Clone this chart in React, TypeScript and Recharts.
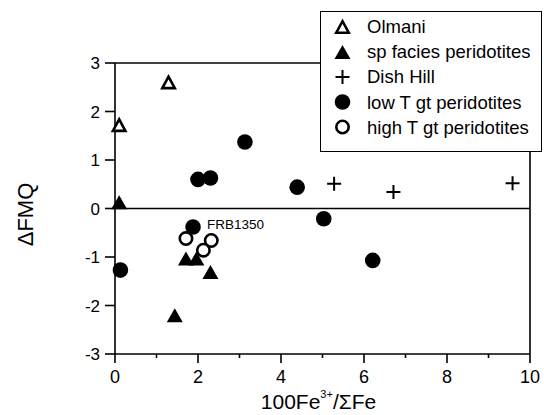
import React from "react";
import {
  ScatterChart,
  Scatter,
  XAxis,
  YAxis,
  ReferenceLine,
  Legend,
  Label,
} from "recharts";

const FONT = '"Liberation Sans", Arial, Helvetica, sans-serif';

const xTicks = [0, 1, 2, 3, 4, 5, 6, 7, 8, 9, 10];
const yTicks = [-3, -2, -1, 0, 1, 2, 3];

// values
const olmani = [
  { x: 1.29, y: 2.6 },
  { x: 0.1, y: 1.72 },
];
const spFacies = [
  { x: 0.1, y: 0.13 },
  { x: 1.71, y: -1.03 },
  { x: 1.96, y: -1.03 },
  { x: 2.3, y: -1.31 },
  { x: 1.44, y: -2.2 },
];
const dishHill = [
  { x: 5.28, y: 0.51 },
  { x: 6.71, y: 0.34 },
  { x: 9.58, y: 0.52 },
];
const lowT = [
  { x: 3.13, y: 1.37 },
  { x: 2.0, y: 0.6 },
  { x: 2.3, y: 0.63 },
  { x: 4.39, y: 0.44 },
  { x: 5.03, y: -0.21 },
  { x: 6.21, y: -1.07 },
  { x: 0.13, y: -1.27 },
  { x: 1.88, y: -0.38, name: "FRB1350" },
];
const highT = [
  { x: 1.71, y: -0.62 },
  { x: 2.32, y: -0.66 },
  { x: 2.13, y: -0.86 },
];

const legendItems = [
  { name: "Olmani", kind: "openTri" },
  { name: "sp facies peridotites", kind: "tri" },
  { name: "Dish Hill", kind: "plus" },
  { name: "low T gt peridotites", kind: "dot" },
  { name: "high T gt peridotites", kind: "ring" },
];

const triPoints = (cx: number, cy: number, w: number, h: number) =>
  `${cx},${cy - h / 2} ${cx - w / 2},${cy + h / 2} ${cx + w / 2},${cy + h / 2}`;

const Marker = ({ kind, cx, cy }: { kind: string; cx: number; cy: number }) => {
  switch (kind) {
    case "openTri":
      return (
        <polygon
          points={triPoints(cx, cy, 12.5, 11.5)}
          fill="#fff"
          stroke="#000"
          strokeWidth={2.6}
        />
      );
    case "tri":
      return <polygon points={triPoints(cx, cy, 16, 14)} fill="#000" />;
    case "plus":
      return (
        <path
          d={`M${cx - 7},${cy}H${cx + 7}M${cx},${cy - 7}V${cy + 7}`}
          stroke="#000"
          strokeWidth={2}
        />
      );
    case "dot":
      return <circle cx={cx} cy={cy} r={7.8} fill="#000" />;
    default:
      return (
        <circle cx={cx} cy={cy} r={6.2} fill="#fff" stroke="#000" strokeWidth={2.6} />
      );
  }
};

const shapeOf = (kind: string) => (props: any) => {
  const { cx, cy, payload } = props;
  return (
    <g>
      <Marker kind={kind} cx={cx} cy={cy} />
      {payload && payload.name && (
        <text x={cx + 14} y={cy + 2} fontSize={13.5} fontFamily={FONT} fill="#000">
          {payload.name}
        </text>
      )}
    </g>
  );
};

const XTick = (props: any) => {
  const { x, y, payload } = props;
  const major = payload.value % 2 === 0;
  return (
    <g>
      <line x1={x} x2={x} y1={y} y2={y + (major ? 9 : 4)} stroke="#000" strokeWidth={1.6} />
      {major && (
        <text x={x} y={y + 29} textAnchor="middle" fontSize={18} fontFamily={FONT} fill="#000">
          {payload.value}
        </text>
      )}
    </g>
  );
};

const LegendBox = () => (
  <div
    style={{
      boxSizing: "border-box",
      width: 222,
      height: 141,
      border: "1.5px solid #000",
      background: "#fff",
      paddingTop: 2,
      fontFamily: FONT,
      fontSize: 18.5,
      color: "#000",
    }}
  >
    {legendItems.map((item) => (
      <div key={item.name} style={{ display: "flex", alignItems: "center", height: 25.2 }}>
        <svg width={46} height={22} style={{ flex: "none" }}>
          <Marker kind={item.kind} cx={21.5} cy={11} />
        </svg>
        <span style={{ whiteSpace: "nowrap", lineHeight: "25px" }}>{item.name}</span>
      </div>
    ))}
  </div>
);

export default function App() {
  return (
    <div
      style={{
        position: "absolute",
        left: 0,
        top: 0,
        width: 544,
        height: 415,
        overflow: "hidden",
        background: "#fff",
      }}
    >
      <ScatterChart
        width={544}
        height={415}
        margin={{ top: 62, right: 13, bottom: 21, left: 0 }}
      >
        <XAxis
          type="number"
          dataKey="x"
          domain={[0, 10]}
          ticks={xTicks}
          interval={0}
          height={40}
          tickSize={0}
          tickMargin={0}
          tick={<XTick />}
          axisLine={{ stroke: "#000", strokeWidth: 1.6 }}
        >
          <Label
            content={(p: any) => {
              const { x, y, width } = p.viewBox;
              return (
                <text
                  x={x + width / 2 - 4}
                  y={y + 55}
                  textAnchor="middle"
                  fontSize={21}
                  fontFamily={FONT}
                  fill="#000"
                >
                  100Fe
                  <tspan dy={-11} fontSize={11}>
                    3+
                  </tspan>
                  <tspan dy={11}>/ΣFe</tspan>
                </text>
              );
            }}
          />
        </XAxis>
        <XAxis
          xAxisId="top"
          orientation="top"
          type="number"
          domain={[0, 10]}
          height={1}
          tick={false}
          tickLine={false}
          axisLine={{ stroke: "#000", strokeWidth: 1.6 }}
        />
        <YAxis
          type="number"
          dataKey="y"
          domain={[-3, 3]}
          ticks={yTicks}
          interval={0}
          width={115}
          tickSize={10}
          tickMargin={5}
          tick={{ fill: "#000", fontSize: 17, fontFamily: FONT }}
          tickLine={{ stroke: "#000", strokeWidth: 1.6 }}
          axisLine={{ stroke: "#000", strokeWidth: 1.6 }}
        >
          <Label
            content={(p: any) => {
              const { x, y, height } = p.viewBox;
              const cx = x + 25.5;
              const cy = y + height / 2 + 6;
              return (
                <text
                  x={cx}
                  y={cy}
                  transform={`rotate(-90 ${cx} ${cy})`}
                  textAnchor="middle"
                  dominantBaseline="central"
                  fontSize={22}
                  fontFamily={FONT}
                  fill="#000"
                >
                  ΔFMQ
                </text>
              );
            }}
          />
        </YAxis>
        <YAxis
          yAxisId="right"
          orientation="right"
          type="number"
          domain={[-3, 3]}
          width={1}
          tick={false}
          tickLine={false}
          axisLine={{ stroke: "#000", strokeWidth: 1.6 }}
        />
        <ReferenceLine y={0} stroke="#000" strokeWidth={1.6} />
        <Scatter name="low T gt peridotites" data={lowT} shape={shapeOf("dot")} isAnimationActive={false} />
        <Scatter name="high T gt peridotites" data={highT} shape={shapeOf("ring")} isAnimationActive={false} />
        <Scatter name="sp facies peridotites" data={spFacies} shape={shapeOf("tri")} isAnimationActive={false} />
        <Scatter name="Olmani" data={olmani} shape={shapeOf("openTri")} isAnimationActive={false} />
        <Scatter name="Dish Hill" data={dishHill} shape={shapeOf("plus")} isAnimationActive={false} />
        <Legend
          layout="vertical"
          align="center"
          verticalAlign="middle"
          content={() => <LegendBox />}
          wrapperStyle={{ top: 11, left: 320, width: 222, height: 141 }}
        />
      </ScatterChart>
    </div>
  );
}
